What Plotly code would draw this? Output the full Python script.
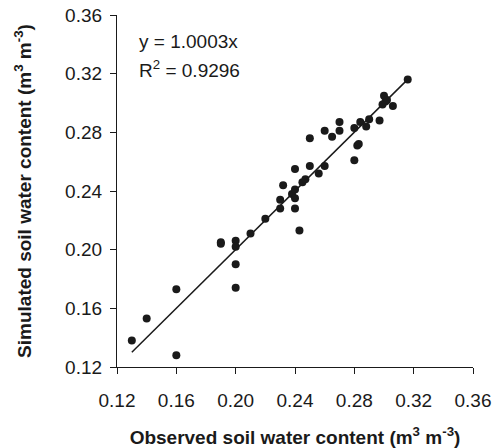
import plotly.graph_objects as go

# Observed vs simulated soil water content (m3 m-3)
observed = [0.130, 0.140, 0.160, 0.160, 0.190, 0.190, 0.200, 0.200, 0.200, 0.200,
            0.210, 0.220, 0.230, 0.230, 0.232, 0.238, 0.240, 0.240, 0.240, 0.240,
            0.243, 0.245, 0.247, 0.250, 0.250, 0.256, 0.260, 0.260, 0.265, 0.270,
            0.270, 0.280, 0.280, 0.282, 0.283, 0.284, 0.288, 0.290, 0.297, 0.300,
            0.299, 0.301, 0.302, 0.306, 0.316]
simulated = [0.138, 0.153, 0.173, 0.128, 0.205, 0.204, 0.206, 0.202, 0.190, 0.174,
             0.211, 0.221, 0.228, 0.234, 0.244, 0.238, 0.241, 0.235, 0.228, 0.255,
             0.213, 0.246, 0.248, 0.257, 0.276, 0.252, 0.257, 0.281, 0.277, 0.281,
             0.287, 0.283, 0.261, 0.271, 0.272, 0.287, 0.284, 0.289, 0.288, 0.305,
             0.299, 0.301, 0.302, 0.298, 0.316]

slope = 1.0003
r_squared = 0.9296
fit_x = [min(observed), max(observed)]
fit_y = [slope * v for v in fit_x]

tick_vals = [0.12, 0.16, 0.20, 0.24, 0.28, 0.32, 0.36]
tick_text = ["0.12", "0.16", "0.20", "0.24", "0.28", "0.32", "0.36"]

font_family = "Arial, Liberation Sans, Helvetica, sans-serif"
ink = "#1a1a1a"

fig = go.Figure()
fig.add_trace(go.Scatter(
    x=fit_x, y=fit_y, mode="lines",
    line=dict(color=ink, width=1.5),
    showlegend=False, hoverinfo="skip",
))
fig.add_trace(go.Scatter(
    x=observed, y=simulated, mode="markers",
    marker=dict(color=ink, size=8, symbol="circle", line=dict(width=0)),
    showlegend=False,
))

axis_common = dict(
    range=[0.12, 0.36],
    tickvals=tick_vals, ticktext=tick_text,
    ticks="outside", ticklen=6, tickwidth=1, tickcolor=ink,
    showline=True, linecolor=ink, linewidth=1.2,
    showgrid=False, zeroline=False, automargin=False,
    tickfont=dict(family=font_family, size=19, color=ink),
)
title_font = dict(family=font_family, size=19, color=ink)

fig.update_layout(
    width=493, height=448,
    margin=dict(l=117, r=20, t=15, b=81),
    paper_bgcolor="white", plot_bgcolor="white",
    xaxis=dict(
        **axis_common,
        ticklabelstandoff=10,
        title=dict(text="<b>Observed soil water content (m<sup>3</sup> m<sup>-3</sup>)</b>",
                   font=title_font, standoff=22),
    ),
    yaxis=dict(
        **axis_common,
        ticklabelstandoff=4,
        title=dict(text="<b>Simulated soil water content (m<sup>3</sup> m<sup>-3</sup>)</b>",
                   font=title_font, standoff=28),
    ),
    annotations=[
        dict(xref="paper", yref="paper", x=0.055, y=0.924, xanchor="left", yanchor="middle",
             text=f"y = {slope:.4f}x", showarrow=False,
             font=dict(family=font_family, size=19, color=ink)),
        dict(xref="paper", yref="paper", x=0.055, y=0.848, xanchor="left", yanchor="middle",
             text=f"R<sup>2</sup> = {r_squared:.4f}", showarrow=False,
             font=dict(family=font_family, size=19, color=ink)),
    ],
)

fig.write_html("out.html")
